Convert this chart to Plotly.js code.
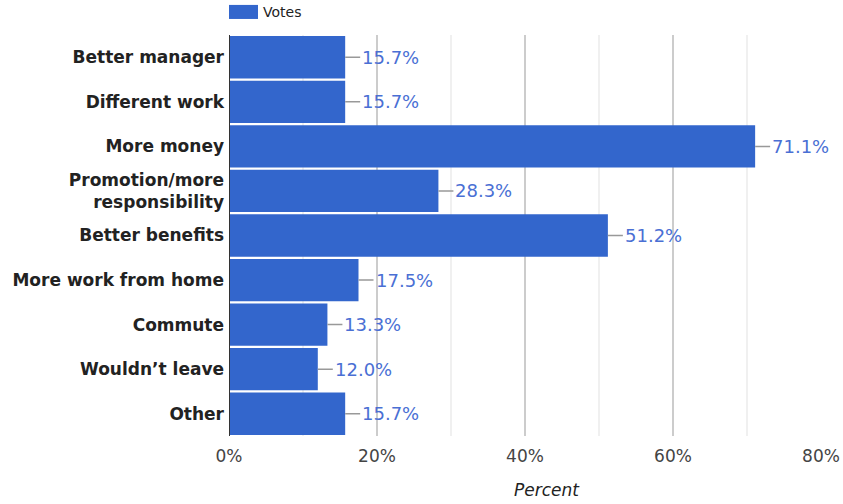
<!DOCTYPE html>
<html><head><meta charset="utf-8">
<script src="https://cdn.plot.ly/plotly-3.0.1.min.js"></script>
<style>html,body{margin:0;padding:0;background:#fff}#c{width:843px;height:504px}</style>
</head><body><div id="c"></div>
<script>
const categories = ["Better manager","Different work","More money","Promotion/more<br>responsibility","Better benefits","More work from home","Commute","Wouldn’t leave","Other"];
const votes = [15.7, 15.7, 71.1, 28.3, 51.2, 17.5, 13.3, 12.0, 15.7];
const majorTicks = [0, 20, 40, 60, 80];
const tickLabels = ["0%", "20%", "40%", "60%", "80%"];
const minorTicks = [10, 30, 50, 70];
const seriesName = "Votes";
const axisTitle = "Percent";

const FONT = "DejaVu Sans";
const BAR = "#3366cc";

const traces = [{
  type: "bar", orientation: "h", name: seriesName,
  x: votes, y: categories,
  marker: {color: BAR, line: {width: 0}},
  hoverinfo: "x+y", showlegend: false
}];

const annotations = votes.map((v, i) => ({
  x: v, y: categories[i], xref: "x", yref: "y",
  text: v.toFixed(1) + "%",
  showarrow: true, arrowhead: 0, arrowwidth: 1.5, arrowcolor: "#999999",
  ax: 15, ay: 0, xanchor: "left", yanchor: "middle", standoff: 0, startstandoff: 0,
  font: {family: FONT, size: 18, color: "#4a6fd4"}
}));
annotations.push({
  xref: "paper", yref: "paper", x: 0.538, y: -0.135, xanchor: "center", yanchor: "middle",
  text: "<i>" + axisTitle + "</i>", showarrow: false,
  font: {family: FONT, size: 17, color: "#222222"}
});
annotations.push({
  xref: "paper", yref: "paper", x: 0.0, y: 1.0, xshift: 32, yshift: 23, xanchor: "left", yanchor: "middle",
  text: seriesName, showarrow: false,
  font: {family: FONT, size: 14, color: "#222222"}
});

const shapes = minorTicks.map(t => ({
  type: "line", xref: "x", yref: "paper", x0: t, x1: t, y0: 0, y1: 1,
  line: {color: "#ebebeb", width: 1.5}, layer: "below"
}));
shapes.push({
  type: "rect", xref: "paper", yref: "paper", x0: 0, x1: 0.049, y0: 1.04, y1: 1.075,
  fillcolor: BAR, line: {width: 0}
});

const layout = {
  width: 843, height: 504,
  margin: {l: 229, r: 22, t: 35, b: 68},
  paper_bgcolor: "#ffffff", plot_bgcolor: "#ffffff",
  bargap: 0.05,
  showlegend: false,
  xaxis: {
    range: [0, 80], tickvals: majorTicks, ticktext: tickLabels,
    showgrid: true, gridcolor: "#cccccc", gridwidth: 1.5,
    zeroline: false, showline: false, ticks: "",
    tickfont: {family: FONT, size: 17, color: "#444444"},
    ticklabelstandoff: 8, fixedrange: true
  },
  yaxis: {
    autorange: "reversed", type: "category",
    showgrid: false, zeroline: false, showline: false, ticks: "",
    tickfont: {family: FONT, size: 17, color: "#222222", weight: "bold"},
    ticklabelstandoff: 4, fixedrange: true
  },
  shapes: shapes.concat([{
    type: "line", xref: "x", yref: "paper", x0: 0, x1: 0, y0: 0, y1: 1,
    line: {color: "#333333", width: 2}, layer: "above"
  }]),
  annotations: annotations
};

Plotly.newPlot("c", traces, layout, {displayModeBar: false, staticPlot: true});
</script>
</body></html>
